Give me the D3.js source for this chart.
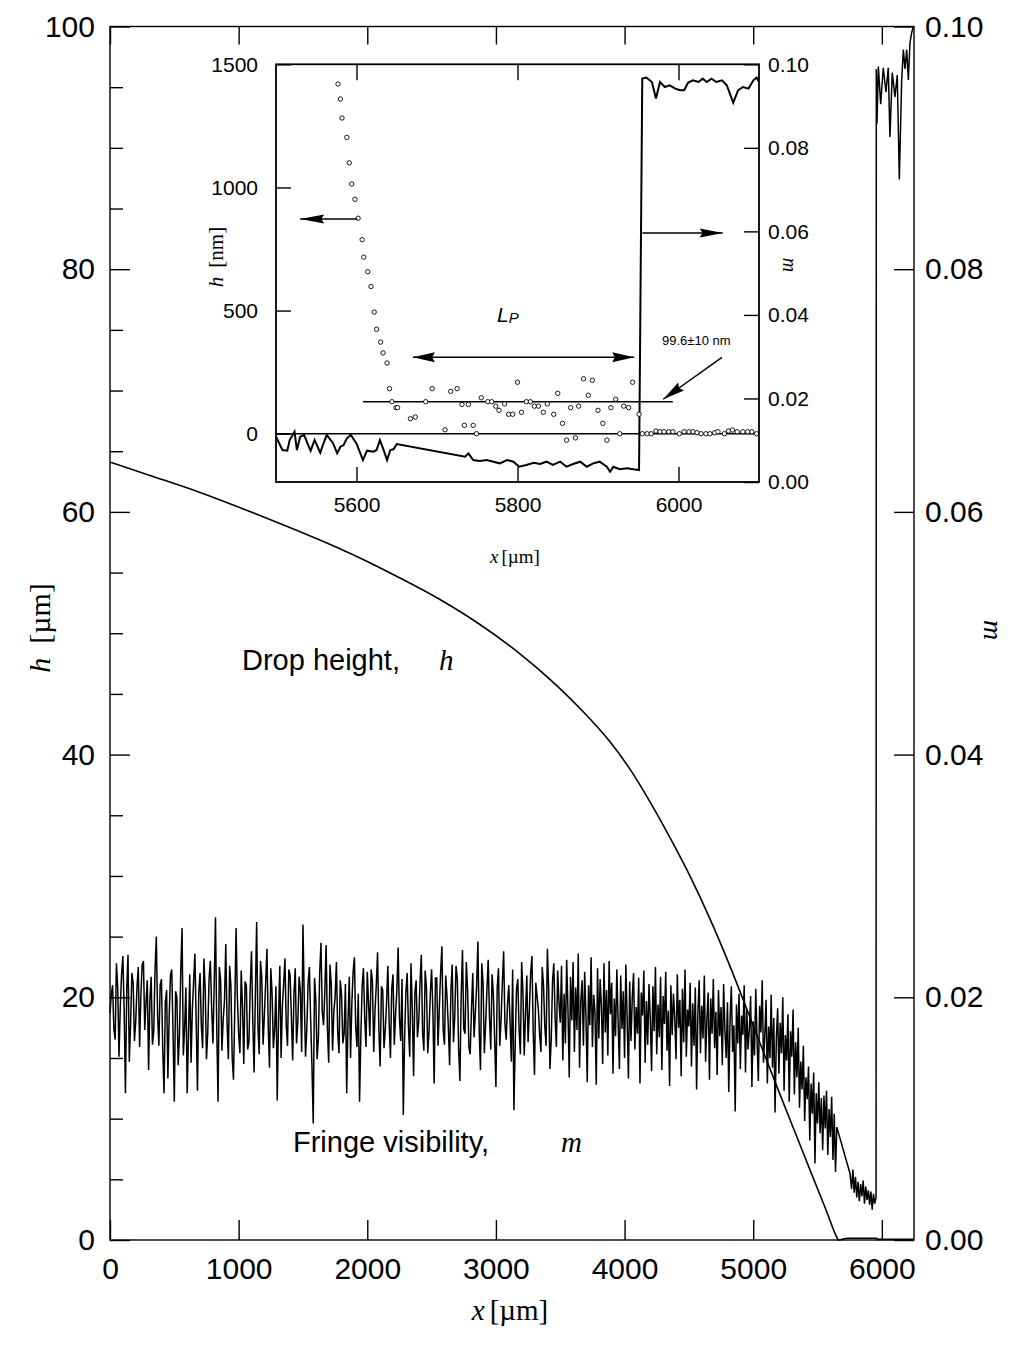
<!DOCTYPE html>
<html>
<head>
<meta charset="utf-8">
<script src="https://cdn.jsdelivr.net/npm/d3@7"></script>
<style>
  body { margin: 0; background: #fff; }
</style>
</head>
<body>
<script>
// ---------- data ----------
// drop height h [um] along x [um]
var hX = [0, 311, 700, 1011, 1321, 1632, 1943, 2254, 2565, 2876, 3187, 3420, 3654, 3887,
  4042, 4198, 4353, 4509, 4664, 4820, 4975, 5208, 5364, 5467, 5571, 5649, 5662, 5737, 5960, 5965, 6250];
var hVal = [64.1, 63.0, 61.6, 60.35, 59.05, 57.68, 56.2, 54.55, 52.78, 50.72, 48.3, 46.2, 43.8, 41.05,
  38.8, 36.1, 33.15, 29.98, 26.46, 22.55, 18.35, 12.0, 7.85, 5.1, 2.35, 0.25, 0, 0.15, 0.15, 0.05, 0.05];

// fringe visibility m (x 1/1000) at x = 0, 20, 40 ... 3480 um
var mEven = [18.7, 21.0, 16.5, 20.8, 19.2, 23.4, 12.1, 23.5, 17.8, 21.2,
  18.0, 22.5, 20.1, 23.0, 19.6, 14.0, 21.7, 17.2, 25.0, 16.0,
  21.5, 12.1, 20.6, 18.4, 22.3, 11.4, 20.0, 16.9, 25.7, 17.5,
  12.1, 21.9, 19.0, 23.6, 12.3, 22.0, 15.8, 20.7, 17.1, 23.0,
  16.2, 26.6, 11.4, 21.4, 18.2, 24.4, 14.9, 20.9, 13.2, 25.7,
  17.0, 22.2, 14.5, 21.0, 16.3, 23.8, 13.8, 26.2, 15.3, 21.6,
  18.5, 24.0, 14.2, 20.3, 17.4, 11.5, 22.6, 19.3, 23.2, 16.0,
  21.8, 14.8, 22.4, 17.9, 20.5, 26.0, 15.1, 21.2, 18.1, 9.6,
  19.8, 16.6, 24.5, 17.7, 24.3, 14.6, 21.1, 18.8, 22.9, 15.4,
  20.2, 17.0, 12.1, 21.7, 19.5, 23.3, 15.9, 11.4, 20.9, 18.3,
  22.1, 16.8, 21.3, 18.9, 23.7, 14.3, 20.6, 17.3, 22.6, 15.0,
  21.9, 18.6, 24.1, 16.4, 10.3, 20.4, 17.6, 22.8, 13.5, 21.4,
  18.0, 23.5, 15.6, 20.8, 17.2, 22.3, 12.9, 21.6, 19.1, 24.2,
  16.1, 20.0, 14.4, 22.7, 18.4, 21.5, 13.1, 23.9, 17.0, 20.6,
  15.3, 22.0, 18.7, 24.6, 14.0, 21.2, 17.8, 23.1, 15.7, 20.3,
  12.6, 22.4, 18.2, 23.8, 16.5, 21.0, 14.7, 10.7, 20.7, 17.4,
  22.9, 15.2, 21.8, 18.9, 23.4, 13.6, 20.1, 16.9, 22.5, 17.6,
  24.0, 14.1, 21.3, 18.3, 22.2];
// fringe visibility m (x 1/1000) at x = 10, 30, 50 ... 3490 um
var mOdd = [20.2, 17.4, 22.8, 15.1, 21.9, 18.9, 20.6, 14.7, 22.0, 16.4,
  20.9, 15.9, 22.7, 17.3, 21.4, 19.8, 16.1, 22.2, 18.5, 21.0,
  15.7, 19.6, 13.3, 21.8, 17.0, 20.5, 14.4, 22.1, 15.2, 20.8,
  16.9, 14.6, 21.3, 18.0, 20.4, 17.7, 23.2, 14.9, 21.5, 19.2,
  21.0, 17.3, 22.5, 15.6, 19.7, 17.9, 22.6, 15.0, 19.1, 20.0,
  15.4, 19.2, 21.3, 15.7, 20.8, 18.1, 20.2, 17.5, 23.0, 16.1,
  21.2, 17.6, 22.4, 15.8, 20.9, 18.3, 15.0, 21.1, 17.7, 22.3,
  18.4, 20.3, 16.2, 21.7, 15.5, 19.9, 17.4, 22.5, 14.3, 21.6,
  14.9, 22.0, 18.8, 20.5, 17.5, 22.7, 15.6, 20.0, 17.2, 21.4,
  16.2, 21.1, 18.0, 15.0, 22.1, 17.6, 20.3, 16.8, 22.4, 15.9,
  19.5, 22.3, 15.5, 21.0, 17.4, 20.9, 15.8, 19.6, 17.9, 20.7,
  16.1, 20.6, 18.3, 21.5, 16.6, 22.0, 15.1, 19.0, 20.4, 16.7,
  21.2, 17.1, 22.2, 15.4, 20.3, 18.8, 21.6, 16.0, 22.0, 17.3,
  21.8, 17.6, 20.5, 16.3, 22.6, 15.8, 20.1, 17.4, 22.9, 15.9,
  19.0, 16.7, 20.9, 17.2, 22.8, 15.4, 20.6, 18.4, 21.9, 16.6,
  20.8, 16.0, 21.2, 17.8, 19.4, 17.9, 22.3, 16.2, 21.5, 15.3,
  20.5, 18.6, 16.3, 22.0, 17.1, 21.2, 19.0, 15.5, 21.0, 16.0,
  20.7, 16.5, 22.8, 15.9, 19.7];

// fringe visibility m (x 1/1000) at x = 3500, 3510 ... 5650 um
var mFine = [17.9, 22.6, 14.8, 20.3, 16.2, 23.1, 19.0, 13.4, 21.7, 18.1,
  22.9, 15.5, 20.8, 17.3, 23.6, 14.2, 19.6, 21.4, 16.0, 22.1,
  18.4, 13.0, 21.0, 17.7, 23.3, 15.9, 20.2, 18.8, 12.8, 22.4,
  16.6, 21.5, 19.3, 14.5, 22.8, 17.1, 20.6, 15.2, 23.0, 18.6,
  21.2, 13.7, 19.9, 16.8, 22.3, 18.0, 14.1, 21.8, 17.4, 20.5,
  15.0, 22.7, 18.3, 13.3, 21.3, 16.4, 20.0, 22.0, 15.7, 19.2,
  17.0, 21.6, 12.9, 20.4, 18.5, 22.2, 14.6, 19.7, 16.1, 21.1,
  18.2, 13.9, 20.9, 17.2, 22.5, 15.3, 19.4, 16.7, 21.7, 14.0,
  20.1, 17.8, 22.1, 15.6, 18.9, 12.7, 21.0, 16.9, 20.3, 18.4,
  14.9, 21.9, 17.5, 19.8, 13.5, 20.7, 16.3, 22.3, 15.1, 19.0,
  17.6, 21.2, 14.3, 19.5, 16.0, 20.8, 12.4, 18.7, 21.4, 15.4,
  19.3, 16.6, 21.8, 14.7, 18.2, 20.4, 13.2, 19.9, 17.0, 21.5,
  15.8, 18.8, 13.6, 20.6, 16.8, 19.2, 14.4, 21.1, 17.3, 15.0,
  19.6, 12.2, 18.1, 20.9, 15.5, 17.7, 10.6, 19.4, 16.2, 20.3,
  14.1, 18.5, 16.9, 21.0, 13.8, 19.0, 15.7, 17.4, 20.1, 12.6,
  18.0, 15.2, 20.7, 16.4, 13.1, 19.3, 17.1, 21.4, 14.6, 16.8,
  19.8, 12.9, 17.6, 15.0, 20.2, 14.2, 18.3, 10.5, 16.6, 19.1,
  13.7, 17.9, 15.4, 20.0, 12.3, 16.9, 14.8, 18.6, 11.4, 17.2,
  15.1, 19.0, 12.0, 16.3, 13.4, 17.5, 10.9, 14.7, 12.4, 16.0,
  9.8, 13.4, 11.6, 14.3, 8.2, 12.9, 10.4, 13.8, 6.3, 12.1,
  9.6, 13.0, 8.8, 11.7, 7.4, 11.9, 9.2, 12.3, 7.0, 10.8,
  8.5, 11.8, 6.6, 10.4, 5.6, 9.3];
var mFineStart = 3500, mFineStep = 10;

// fringe visibility tail beyond the data gap, x [um] and m (x 1/1000)
var mTailX = [5752, 5765, 5775, 5785, 5795, 5805, 5815, 5825, 5835, 5845, 5855, 5865, 5875, 5885, 5895,
  5905, 5915, 5925, 5935, 5945, 5955, 5957, 5962, 5973, 5991, 6011, 6032, 6050, 6063, 6081, 6102,
  6120, 6136, 6154, 6167, 6180, 6193, 6206, 6219, 6232, 6245];
var mTailVal = [5.5, 4.2, 5.8, 3.9, 5.2, 3.5, 4.8, 3.2, 4.6, 3.6, 4.9, 3.0, 4.4, 3.3, 4.1,
  2.9, 4.0, 2.5, 3.8, 3.0, 3.5, 96.5, 92.0, 96.7, 93.6, 96.6, 94.6, 96.6, 90.9, 96.2, 94.2,
  96.0, 87.4, 95.5, 98.1, 96.5, 98.1, 95.6, 98.7, 99.5, 100.0];

// inset: film thickness h [nm] (circles)
var insetDotX = [5577, 5580, 5582, 5588, 5591, 5594, 5598, 5602, 5607, 5609, 5614, 5618, 5622, 5625, 5630,
  5633, 5638, 5641, 5644, 5649, 5651, 5667, 5673, 5686, 5694, 5710, 5717, 5725, 5731, 5734, 5739, 5745,
  5749, 5755, 5763, 5768, 5773, 5777, 5784, 5789, 5794, 5800, 5805, 5811, 5816, 5821, 5826, 5832, 5837,
  5845, 5850, 5856, 5861, 5866, 5872, 5876, 5882, 5888, 5893, 5900, 5906, 5911, 5916, 5922, 5927, 5932,
  5938, 5943, 5951,
  5955, 5961, 5966, 5972, 5977, 5982, 5988, 5993, 6001, 6007, 6013, 6018, 6023, 6028, 6034, 6039, 6045,
  6049, 6057, 6062, 6067, 6073, 6080, 6086, 6091, 6097];
var insetDotH = [1420, 1359, 1282, 1203, 1100, 1014, 952, 875, 788, 717, 658, 598, 494, 424, 372,
  328, 287, 183, 130, 106, 106, 61, 68, 130, 183, 16, 172, 183, 119, 34, 119, 34,
  0, 146, 130, 130, 112, 95, 121, 79, 79, 209, 87, 130, 130, 112, 112, 87, 121,
  79, 164, 42, -26, 106, -17, 112, 223, 156, 217, 95, 42, -26, 106, 140, 0, 112,
  106, 209, 79,
  0, 0, 0, 11, 8, 8, 8, 8, 0, 8, 8, 8, 4, 0, 0, 0, 4,
  8, 0, 11, 15, 8, 8, 8, 8, 0];

// inset: fringe visibility m (x 1/1000)
var insetMX = [5500, 5505, 5508, 5514, 5517, 5523, 5526, 5530, 5535, 5540, 5543, 5548, 5555, 5559, 5563,
  5568, 5571, 5576, 5580, 5584, 5588, 5593, 5597, 5600, 5608, 5613, 5621, 5625, 5629, 5633, 5638, 5642,
  5646, 5650, 5735, 5739, 5745, 5753, 5762, 5770, 5778, 5787, 5795, 5802, 5811, 5820, 5828, 5836, 5844,
  5853, 5861, 5869, 5878, 5886, 5894, 5902, 5911, 5915, 5919, 5927, 5936, 5944, 5951, 5955, 5960, 5967,
  5972, 5977, 5983, 5989, 5996, 6002, 6007, 6012, 6018, 6025, 6030, 6035, 6041, 6047, 6054, 6060, 6068,
  6074, 6080, 6087, 6093, 6097, 6100];
var insetMVal = [10.84, 8.85, 7.66, 7.49, 10.05, 12.03, 7.66, 10.84, 11.24, 8.85, 7.49, 10.05, 7.02, 9.25, 11.24,
  10.05, 9.25, 6.86, 8.45, 8.85, 10.45, 11.24, 10.05, 9.25, 5.26, 7.49, 7.25, 7.66, 10.05, 8.06, 5.26, 7.66,
  7.82, 9.09, 6.05, 6.86, 5.26, 5.02, 5.26, 4.86, 4.47, 5.26, 4.86, 3.66, 4.07, 4.62, 4.31, 4.86, 4.07,
  4.86, 3.66, 4.31, 4.86, 3.66, 4.47, 4.86, 3.66, 2.46, 3.66, 3.04, 3.28, 3.04, 2.87, 96.6, 96.82, 95.77,
  91.79, 95.77, 94.57, 94.98, 94.18, 93.78, 93.78, 95.62, 96.17, 95.77, 96.57, 95.77, 96.57, 95.77, 96.17, 94.98, 90.83,
  93.78, 94.57, 94.18, 96.17, 96.82, 95.77];

// ticks
var mainXTicks = [0, 1000, 2000, 3000, 4000, 5000, 6000];
var mainHTicks = [0, 20, 40, 60, 80, 100];
var mainHMinor = [5, 10, 15, 25, 30, 35, 45, 50, 55, 65, 70, 75, 85, 90, 95];
var mainMTicks = [0, 0.02, 0.04, 0.06, 0.08, 0.10];
var insetXTicks = [5600, 5800, 6000];
var insetHTicks = [0, 500, 1000, 1500];
var insetMTicks = [0, 0.02, 0.04, 0.06, 0.08, 0.10];

// ---------- build point lists ----------
var hPts = hX.map(function(d, i) { return [d, hVal[i]]; });
var mPts = [];
mEven.forEach(function(v, i) {
  mPts.push([i * 20, v / 1000]);
  if (i < mOdd.length) mPts.push([i * 20 + 10, mOdd[i] / 1000]);
});
mFine.forEach(function(v, i) { mPts.push([mFineStart + i * mFineStep, v / 1000]); });
mTailX.forEach(function(d, i) { mPts.push([d, mTailVal[i] / 1000]); });
var dots = insetDotX.map(function(d, i) { return [d, insetDotH[i]]; });
var insetMPts = insetMX.map(function(d, i) { return [d, insetMVal[i] / 1000]; });

var sans = "'Liberation Sans', Arial, Helvetica, sans-serif",
    serif = "'Liberation Serif', 'Times New Roman', serif";

var svg = d3.select("body").append("svg")
  .attr("width", 1009)
  .attr("height", 1359);

// ---------- main plot ----------
var frame = {left: 110, right: 914, top: 26.5, bottom: 1240};
var x = d3.scaleLinear().domain([0, 6250]).range([frame.left, frame.right]);
var yH = d3.scaleLinear().domain([0, 100]).range([frame.bottom, frame.top]);
var yM = d3.scaleLinear().domain([0, 0.1]).range([frame.bottom, frame.top]);

function styleAxis(g, fontSize) {
  g.select(".domain").remove();
  g.selectAll(".tick line").attr("stroke", "#000").attr("stroke-width", 1.4);
  g.selectAll(".tick text")
    .attr("font-family", sans)
    .attr("font-size", fontSize)
    .attr("fill", "#000");
}

svg.append("path")
  .datum(hPts)
  .attr("fill", "none")
  .attr("stroke", "#000")
  .attr("stroke-width", 1.6)
  .attr("d", d3.line().x(function(d) { return x(d[0]); }).y(function(d) { return yH(d[1]); }).curve(d3.curveMonotoneX));

svg.append("path")
  .datum(mPts)
  .attr("fill", "none")
  .attr("stroke", "#000")
  .attr("stroke-width", 1.5)
  .attr("d", d3.line().x(function(d) { return x(d[0]); }).y(function(d) { return yM(d[1]); }));

svg.append("g").attr("transform", "translate(" + frame.left + ",0)")
  .call(d3.axisLeft(yH).tickValues(mainHTicks).tickSize(-20).tickPadding(15))
  .call(styleAxis, 30);
svg.append("g").attr("transform", "translate(" + frame.left + ",0)")
  .call(d3.axisLeft(yH).tickValues(mainHMinor).tickSize(-13).tickFormat(""))
  .call(styleAxis, 30);
svg.append("g").attr("transform", "translate(" + frame.right + ",0)")
  .call(d3.axisRight(yM).tickValues(mainMTicks).tickSize(-20).tickPadding(11).tickFormat(d3.format(".2f")))
  .call(styleAxis, 30);
svg.append("g").attr("transform", "translate(0," + frame.bottom + ")")
  .call(d3.axisBottom(x).tickValues(mainXTicks).tickSize(-20).tickPadding(18).tickFormat(d3.format("d")))
  .call(styleAxis, 30);
svg.append("g").attr("transform", "translate(0," + frame.top + ")")
  .call(d3.axisTop(x).tickValues(mainXTicks).tickSize(-18).tickFormat(""))
  .call(styleAxis, 30);

svg.append("rect")
  .attr("x", frame.left).attr("y", frame.top)
  .attr("width", frame.right - frame.left).attr("height", frame.bottom - frame.top)
  .attr("fill", "none").attr("stroke", "#000").attr("stroke-width", 1.4);

// axis titles
var yTitle = svg.append("text")
  .attr("transform", "translate(50,628) rotate(-90)")
  .attr("text-anchor", "middle")
  .attr("font-size", 30);
yTitle.append("tspan").attr("font-family", serif).attr("font-style", "italic").text("h");
yTitle.append("tspan").attr("font-family", serif).attr("dx", 14).text("[µm]");

var xTitle = svg.append("text")
  .attr("x", 510).attr("y", 1320)
  .attr("text-anchor", "middle")
  .attr("font-size", 29);
xTitle.append("tspan").attr("font-family", serif).attr("font-style", "italic").text("x");
xTitle.append("tspan").attr("font-family", serif).attr("dx", 5).text("[µm]");

svg.append("text")
  .attr("transform", "translate(984,630) rotate(90)")
  .attr("text-anchor", "middle")
  .attr("font-family", serif).attr("font-style", "italic")
  .attr("font-size", 28)
  .text("m");

// curve labels
svg.append("text").attr("x", 242).attr("y", 670)
  .attr("font-family", sans).attr("font-size", 29).text("Drop height,");
svg.append("text").attr("x", 439).attr("y", 670)
  .attr("font-family", serif).attr("font-style", "italic").attr("font-size", 29).text("h");
svg.append("text").attr("x", 293).attr("y", 1152)
  .attr("font-family", sans).attr("font-size", 29).text("Fringe visibility,");
svg.append("text").attr("x", 561).attr("y", 1152)
  .attr("font-family", serif).attr("font-style", "italic").attr("font-size", 29).text("m");

// ---------- inset ----------
var inset = {left: 276, right: 759, top: 64.3, bottom: 482};
var xi = d3.scaleLinear().domain([5500, 6100]).range([inset.left, inset.right]);
var yHi = d3.scaleLinear().domain([-196, 1500]).range([inset.bottom, inset.top]);
var yMi = d3.scaleLinear().domain([0, 0.1]).range([inset.bottom, inset.top]);

svg.append("rect")
  .attr("x", inset.left).attr("y", inset.top)
  .attr("width", inset.right - inset.left).attr("height", inset.bottom - inset.top)
  .attr("fill", "#fff");

var ig = svg.append("g");

// zero line and mean film thickness line
ig.append("line")
  .attr("x1", xi(5500)).attr("x2", xi(6100)).attr("y1", yHi(0)).attr("y2", yHi(0))
  .attr("stroke", "#000").attr("stroke-width", 1.6);
ig.append("line")
  .attr("x1", xi(5608)).attr("x2", xi(5993)).attr("y1", yHi(130)).attr("y2", yHi(130))
  .attr("stroke", "#000").attr("stroke-width", 1.5);

ig.append("path")
  .datum(insetMPts)
  .attr("fill", "none")
  .attr("stroke", "#000")
  .attr("stroke-width", 2)
  .attr("d", d3.line().x(function(d) { return xi(d[0]); }).y(function(d) { return yMi(d[1]); }));

ig.selectAll("circle.dot")
  .data(dots)
  .enter().append("circle")
  .attr("class", "dot")
  .attr("cx", function(d) { return xi(d[0]); })
  .attr("cy", function(d) { return yHi(d[1]); })
  .attr("r", 2.2)
  .attr("fill", "#fff")
  .attr("stroke", "#000")
  .attr("stroke-width", 0.9);

function arrowHead(g, x1, y1, x2, y2, len, hw) {
  var dx = x2 - x1, dy = y2 - y1, L = Math.sqrt(dx * dx + dy * dy);
  var ux = dx / L, uy = dy / L;
  var bx = x2 - ux * len, by = y2 - uy * len;
  g.append("path")
    .attr("d", "M" + x2 + "," + y2 + "L" + (bx - uy * hw) + "," + (by + ux * hw) +
      "L" + (bx + ux * len * 0.12) + "," + (by + uy * len * 0.12) +
      "L" + (bx + uy * hw) + "," + (by - ux * hw) + "Z")
    .attr("fill", "#000");
}
function arrow(g, x1, y1, x2, y2, len, hw, both) {
  g.append("line").attr("x1", x1).attr("y1", y1).attr("x2", x2).attr("y2", y2)
    .attr("stroke", "#000").attr("stroke-width", 1.5);
  arrowHead(g, x1, y1, x2, y2, len, hw);
  if (both) arrowHead(g, x2, y2, x1, y1, len, hw);
}

arrow(ig, xi(5601), yHi(872), xi(5530), yHi(872), 24, 4.5);
arrow(ig, xi(5955), yMi(0.0596), xi(6055), yMi(0.0596), 23, 4.5);
arrow(ig, xi(5670), yHi(311), xi(5945), yHi(311), 22, 5, true);
arrow(ig, xi(6054), yHi(310), xi(5981), yHi(140), 22, 5);

ig.append("text").attr("x", 497).attr("y", 322)
  .attr("font-family", sans).attr("font-style", "italic").attr("font-size", 21).text("L")
  .append("tspan").attr("font-size", 15).attr("dy", 1).text("P");
ig.append("text").attr("x", 662).attr("y", 345)
  .attr("font-family", sans).attr("font-size", 13).text("99.6±10 nm");

svg.append("g").attr("transform", "translate(" + inset.left + ",0)")
  .call(d3.axisLeft(yHi).tickValues(insetHTicks).tickSize(-15).tickPadding(18).tickFormat(d3.format("d")))
  .call(styleAxis, 21);
svg.append("g").attr("transform", "translate(" + inset.right + ",0)")
  .call(d3.axisRight(yMi).tickValues(insetMTicks).tickSize(-15).tickPadding(9).tickFormat(d3.format(".2f")))
  .call(styleAxis, 21);
svg.append("g").attr("transform", "translate(0," + inset.bottom + ")")
  .call(d3.axisBottom(xi).tickValues(insetXTicks).tickSize(-15).tickPadding(15).tickFormat(d3.format("d")))
  .call(styleAxis, 21);
svg.append("g").attr("transform", "translate(0," + inset.top + ")")
  .call(d3.axisTop(xi).tickValues(insetXTicks).tickSize(-16).tickFormat(""))
  .call(styleAxis, 21);

svg.append("rect")
  .attr("x", inset.left).attr("y", inset.top)
  .attr("width", inset.right - inset.left).attr("height", inset.bottom - inset.top)
  .attr("fill", "none").attr("stroke", "#000").attr("stroke-width", 1.8);

var iyTitle = svg.append("text")
  .attr("transform", "translate(223,257) rotate(-90)")
  .attr("text-anchor", "middle")
  .attr("font-size", 21);
iyTitle.append("tspan").attr("font-family", serif).attr("font-style", "italic").text("h");
iyTitle.append("tspan").attr("font-family", serif).attr("dx", 9).text("[nm]");

var ixTitle = svg.append("text")
  .attr("x", 490).attr("y", 563)
  .attr("font-size", 19);
ixTitle.append("tspan").attr("font-family", serif).attr("font-style", "italic").text("x");
ixTitle.append("tspan").attr("font-family", serif).attr("dx", 3).text("[µm]");

svg.append("text")
  .attr("transform", "translate(783,265) rotate(90)")
  .attr("text-anchor", "middle")
  .attr("font-family", serif).attr("font-style", "italic")
  .attr("font-size", 20)
  .text("m");
</script>
</body>
</html>
